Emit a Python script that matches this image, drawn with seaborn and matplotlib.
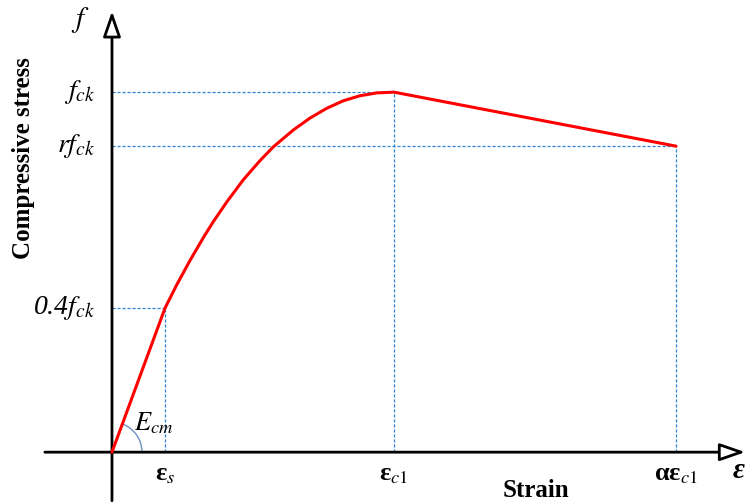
#!/usr/bin/env python3
"""
Idealised compressive stress-strain diagram for concrete (schematic).
"""

import numpy as np
import matplotlib
matplotlib.use("Agg")
import matplotlib.pyplot as plt
from matplotlib.patches import Arc
import seaborn as sns

# strain in units of eps_c1, stress in units of f_ck
eps_s = 0.188
eps_c1 = 1.0
alpha = 2.0
r = 0.85
f_lin = 0.4

curve_strain = [0.0, 0.188, 0.229, 0.277, 0.324, 0.359, 0.407, 0.466,
                0.525, 0.572, 0.643, 0.702, 0.761, 0.820, 0.879, 0.939,
                1.0, 2.0]
curve_stress = [0.0, 0.400, 0.464, 0.533, 0.596, 0.640, 0.695, 0.757,
                0.810, 0.848, 0.895, 0.928, 0.955, 0.976, 0.990, 0.998,
                1.0, 0.85]

y_labels = [r"$f_{ck}$", r"$rf_{ck}$", r"0.4$f_{ck}$"]
y_label_vals = [1.0, r, f_lin]
x_labels = ["ε$_s$", "ε$_{c1}$", "αε$_{c1}$"]
x_label_vals = [eps_s, eps_c1, alpha * eps_c1]

# axes / layout
FIG_W, FIG_H = 7.5, 5.04
XLIM = (-0.397, 2.262)
YLIM = (-0.144, 1.256)
DASH_COLOR = "#2f86d0"
ARC_COLOR = "#6f8fc2"

sns.set_theme(style="white")
plt.rcParams["font.family"] = ["Liberation Serif", "DejaVu Serif"]
plt.rcParams["mathtext.fontset"] = "stix"
plt.rcParams["text.color"] = "black"

fig = plt.figure(figsize=(FIG_W, FIG_H), dpi=100)
ax = fig.add_axes([0, 0, 1, 1])
ax.set_xlim(*XLIM)
ax.set_ylim(*YLIM)
ax.axis("off")

# guide lines
dash = dict(color=DASH_COLOR, lw=0.9, linestyle=(0, (2.5, 1.5)))
peak_x = alpha * eps_c1
ax.hlines([1.0, r, f_lin], 0, [eps_c1, peak_x, eps_s], **dash)
ax.vlines([eps_s, eps_c1, peak_x], 0, [f_lin, 1.0, r], **dash)

# axes with hollow arrow heads
arrow = dict(arrowstyle="-|>,head_length=1.3,head_width=0.45", lw=2,
             fc="white", ec="black", shrinkA=0, shrinkB=0)
ax.annotate("", xy=(2.245, 0), xytext=(-0.238, 0), arrowprops=arrow)
ax.annotate("", xy=(0, 1.225), xytext=(0, -0.135), arrowprops=arrow)

# stress-strain curve
sns.lineplot(x=curve_strain, y=curve_stress, sort=False, color="red",
             lw=2.2, ax=ax, zorder=5)

# angle marker for E_cm
px_x = FIG_W * 100 / (XLIM[1] - XLIM[0])
px_y = FIG_H * 100 / (YLIM[1] - YLIM[0])
rad = 30
theta = np.degrees(np.arctan2(f_lin, eps_s))
ax.add_patch(Arc((0, 0), 2 * rad / px_x, 2 * rad / px_y, theta1=0,
                 theta2=theta, color=ARC_COLOR, lw=1))
ax.text(0.078, 0.081, r"$E_{cm}$", fontsize=19, ha="left", va="center")

# tick-like labels
for lab, v in zip(y_labels, y_label_vals):
    ax.annotate(lab, xy=(0, v), xytext=(-12, 0), textcoords="offset points",
                ha="right", va="center", fontsize=20, fontstyle="italic")
for lab, v in zip(x_labels, x_label_vals):
    ax.annotate(lab, xy=(v, 0), xytext=(0, -16), textcoords="offset points",
                ha="center", va="center", fontsize=19, fontweight="bold")

ax.text(-0.113, 1.2, r"$f$", fontsize=21, ha="center", va="center")
ax.text(2.222, -0.05, "ε", fontsize=21, fontstyle="italic",
        fontweight="bold", ha="center", va="center")
ax.text(1.504, -0.106, "Strain", fontsize=18, fontweight="bold",
        ha="center", va="center")
ax.text(-0.312, 0.817, "Compressive stress", fontsize=18, fontweight="bold",
        rotation=90, ha="center", va="center")

fig.savefig("out.png", dpi=100)
plt.close(fig)
